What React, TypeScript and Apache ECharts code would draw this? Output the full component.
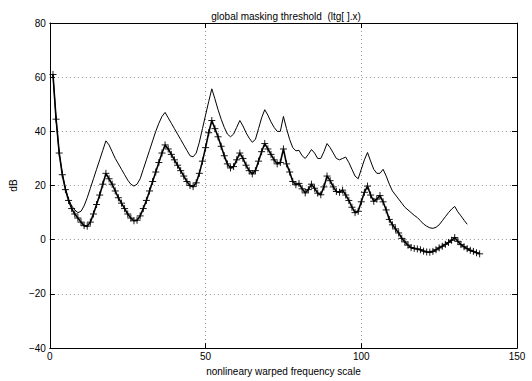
import React, { useEffect, useRef } from "react";
import * as echarts from "echarts";

// global masking threshold with markers (ltg[].x), index 1..138
const maskedThreshold: number[] = [
  61, 44.5, 32, 24, 18.5, 14.5, 11.5, 9.5, 8, 6.5,
  5.2, 5, 6.5, 9.5, 13, 16.5, 20.5, 24.5, 22.5, 20.5,
  18, 15.5, 13.5, 11.5, 9.5, 8, 7, 7.2, 8.8, 11.5,
  14.5, 18, 21.5, 25, 28.5, 32, 35, 33.5, 31.5, 29.5,
  27.5, 25.5, 23.5, 21.5, 20, 19.6, 21, 24.5, 29, 34,
  39.5, 44, 41, 38, 34.5, 31, 28, 26.5, 27, 29.5,
  32, 30, 27.5, 25.5, 24.3, 25.5, 29, 32.5, 35.5, 33.5,
  31.5, 29.5, 28, 28.5, 33.5, 28, 25, 21.5, 20.3, 20.8,
  18.8, 17.3, 18.5, 20.5, 19, 17.2, 16.6, 19.5, 23.5, 21.8,
  19.5, 17.8, 17.5, 18.3, 16.5, 14.5, 12, 10, 10.5, 14,
  17.5, 19.8, 16.5, 14.2, 15, 16.3, 14, 11, 7.5, 5.5,
  4, 2.5, 0.5, -0.8, -2, -2.9, -3.2, -3.4, -3.7, -4.2,
  -4.5, -4.6, -4.3, -3.7, -3, -2.4, -1.7, -1, -0.2, 0.8,
  -0.6, -1.8, -2.6, -3.3, -3.9, -4.3, -4.8, -5.2,
];

// upper thin curve, index 1..134
const upperThreshold: number[] = [
  61, 44.5, 32, 24.5, 19, 15, 12.5, 11, 10, 10.5,
  12.5, 15.5, 19, 22.5, 26, 29.5, 33, 36.5, 35, 32.5,
  30, 28, 26, 24, 22, 20.5, 19.8, 20.5, 22.5, 26,
  29.5, 33, 36.5, 40, 43, 45.5, 47, 45, 43, 41,
  39, 37, 35, 33, 31, 30.6, 32, 36, 41, 46,
  51, 55.7, 52, 48, 44.5, 41.5, 39, 38, 39, 41.5,
  44, 42, 39.5, 37.5, 36, 37, 41, 45, 48, 46,
  43.5, 41.5, 40, 40, 45.5, 41, 37, 34, 32.8, 33,
  31, 30, 31.5, 33.3, 32, 30, 30, 32.5, 35.5, 34,
  32, 30, 29.5, 30, 30.5, 28.5, 26, 23.5, 22.5, 26,
  29.5, 32.2, 29, 26, 24.5, 24.5, 26, 23.5, 20.5, 18,
  16.5, 15, 13.5, 12, 11, 10, 9, 8.2, 7, 5.8,
  5, 4.4, 4.2, 4.6, 5.5, 7, 8.5, 10, 11.3, 12.3,
  10.3, 8.8, 7.2, 5.7,
];

const xTicks = [0, 50, 100, 150];
const yTicks = [-40, -20, 0, 20, 40, 60, 80];

const FONT = "Liberation Sans";

export default function App() {
  const ref = useRef<HTMLDivElement>(null);
  useEffect(() => {
    if (!ref.current) return;
    const chart = echarts.init(ref.current, undefined, { renderer: "svg" });
    const markedData = maskedThreshold.map((v, i) => [i + 1, v]);
    const upperData = upperThreshold.map((v, i) => [i + 1, v]);
    const grid = { left: 45, right: 15, top: 23, bottom: 26 };
    const splitLine = {
      show: true,
      lineStyle: { color: "#666", width: 0.7, type: [1, 3] as any },
    };
    const axisLine = { show: true, onZero: false, lineStyle: { color: "#000", width: 1 } };
    const axisTickIn = { show: true, inside: true, length: 5, lineStyle: { color: "#000" } };
    const fmt = (v: number) => (v < 0 ? "\u2212" + Math.abs(v) : String(v));
    chart.setOption({
      animation: false,
      backgroundColor: "#fff",
      title: {
        text: "global masking threshold  (ltg[ ].x)",
        left: 281,
        textAlign: "center",
        top: 6,
        textStyle: { fontFamily: FONT, fontSize: 10, fontWeight: "normal", color: "#000" },
      },
      grid,
      xAxis: [
        {
          type: "value",
          min: 0,
          max: 150,
          interval: 50,
          name: "nonlineary warped frequency scale",
          nameLocation: "middle",
          nameGap: 12,
          nameTextStyle: { fontFamily: FONT, fontSize: 10, color: "#000" },
          axisLine,
          axisTick: axisTickIn,
          axisLabel: {
            fontFamily: FONT,
            fontSize: 10,
            color: "#000",
            margin: 3,
            formatter: fmt,
            customValues: xTicks,
          },
          splitLine,
        },
        {
          type: "value",
          position: "top",
          min: 0,
          max: 150,
          interval: 50,
          axisLine,
          axisTick: axisTickIn,
          axisLabel: { show: false },
          splitLine: { show: false },
        },
      ],
      yAxis: [
        {
          type: "value",
          min: -40,
          max: 80,
          interval: 20,
          name: "dB",
          nameLocation: "middle",
          nameGap: 28,
          nameRotate: 90,
          nameTextStyle: { fontFamily: FONT, fontSize: 10, color: "#000" },
          axisLine,
          axisTick: axisTickIn,
          axisLabel: {
            fontFamily: FONT,
            fontSize: 10,
            color: "#000",
            margin: 4,
            formatter: fmt,
            customValues: yTicks,
          },
          splitLine,
        },
        {
          type: "value",
          position: "right",
          min: -40,
          max: 80,
          interval: 20,
          axisLine,
          axisTick: axisTickIn,
          axisLabel: { show: false },
          splitLine: { show: false },
        },
      ],
      series: [
        {
          type: "line",
          data: upperData,
          showSymbol: false,
          symbol: "none",
          lineStyle: { color: "#000", width: 1 },
          z: 2,
        },
        {
          type: "line",
          data: markedData,
          symbol: "path://M0,5L10,5M5,0L5,10",
          symbolSize: 7,
          showAllSymbol: true,
          itemStyle: { color: "#000", borderColor: "#000", borderWidth: 0.9 },
          lineStyle: { color: "#000", width: 1.6 },
          z: 3,
        },
      ],
    });
    return () => chart.dispose();
  }, []);
  return <div ref={ref} style={{ width: 532, height: 381, position: "absolute", left: 0, top: 0 }} />;
}
